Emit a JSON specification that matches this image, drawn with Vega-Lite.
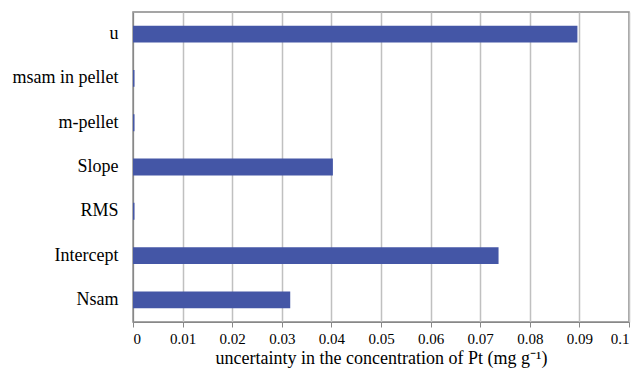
{
  "$schema": "https://vega.github.io/schema/vega-lite/v6.json",
  "autosize": {"type": "none"},
  "width": 496,
  "height": 310,
  "padding": {"left": 133, "top": 12, "right": 9, "bottom": 49},
  "background": "white",
  "data": {"values": [
    {"factor": "u", "value": 0.0896},
    {"factor": "msam in pellet", "value": 0.0003},
    {"factor": "m-pellet", "value": 0.0003},
    {"factor": "Slope", "value": 0.0403},
    {"factor": "RMS", "value": 0.0003},
    {"factor": "Intercept", "value": 0.0737},
    {"factor": "Nsam", "value": 0.0317}
  ]},
  "mark": {"type": "bar", "color": "#4456A6"},
  "encoding": {
    "y": {
      "field": "factor", "type": "nominal", "sort": null,
      "scale": {"paddingInner": 0.62, "paddingOuter": 0.31},
      "axis": {"title": null, "ticks": false, "domain": true, "domainColor": "#888888",
               "labelFont": "Liberation Serif", "labelFontSize": 18, "labelColor": "#000000",
               "labelPadding": 15}
    },
    "x": {
      "field": "value", "type": "quantitative",
      "scale": {"domain": [0, 0.1], "nice": false},
      "axis": {"values": [0, 0.01, 0.02, 0.03, 0.04, 0.05, 0.06, 0.07, 0.08, 0.09, 0.1],
               "format": "~g", "grid": true, "gridColor": "#C0C0C0", "gridWidth": 1.5,
               "domainColor": "#888888", "tickColor": "#888888", "tickSize": 5,
               "labelFont": "Liberation Serif", "labelFontSize": 15, "labelColor": "#000000",
               "labelPadding": 4,
               "title": "uncertainty in the concentration of Pt (mg g⁻¹)",
               "titleFont": "Liberation Serif", "titleFontSize": 18, "titleFontWeight": "normal",
               "titleColor": "#000000", "titlePadding": 3}
    }
  },
  "config": {"view": {"stroke": "#888888", "strokeWidth": 1.5}}
}
